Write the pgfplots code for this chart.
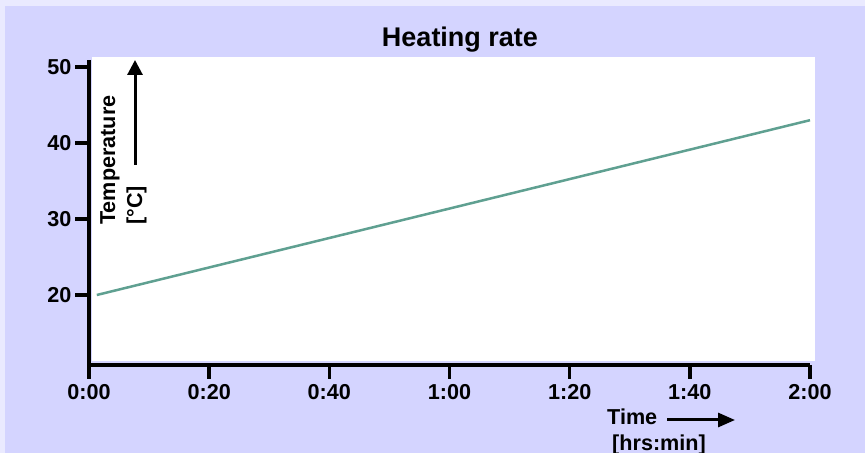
\documentclass[border=0pt]{standalone}
\usepackage{fontspec}
\setmainfont{Liberation Sans}
\usepackage{pgfplots}
\pgfplotsset{compat=1.18}
\usetikzlibrary{arrows.meta}
\definecolor{bgouter}{RGB}{234,234,255}
\definecolor{bginner}{RGB}{212,212,255}
\definecolor{linec}{RGB}{95,160,145}
\newcommand{\tf}{\fontsize{21.6bp}{26bp}\selectfont\bfseries}
\begin{document}
\begin{tikzpicture}[x=1bp,y=1bp]
\fill[bgouter] (0,0) rectangle (865,453);
\fill[bginner] (5,0) rectangle (865,447);
\fill[white] (92,92) rectangle (815,396);
\begin{axis}[
  at={(89bp,88bp)}, anchor=south west,
  scale only axis, width=721bp, height=305bp,
  xmin=0, xmax=120, ymin=10.79, ymax=50.92,
  axis x line*=bottom, axis y line*=left,
  every outer x axis line/.append style={line width=3.5bp, black},
  every outer y axis line/.append style={line width=3.5bp, black},
  axis line style={line width=3.5bp, black},
  xtick={0,20,...,120},
  xticklabels={0:00,0:20,0:40,1:00,1:20,1:40,2:00},
  ytick={20,30,40,50},
  tick align=outside,
  major tick length=14bp,
  every tick/.append style={line width=3.5bp, black},
  major tick style={line width=3.5bp, black},
  ticklabel style={font=\tf},
  xticklabel style={yshift=-2bp},
  /pgf/number format/assume math mode=true,
  clip=false,
]
\addplot[linec, line width=2.5bp] coordinates {(1.3,20) (120,43)};
\end{axis}
\node[anchor=base, inner sep=0pt, font=\fontsize{27bp}{32bp}\selectfont\bfseries] at (460,406) {Heating rate};
% y label
\node[anchor=base west, rotate=90, inner sep=0pt, font=\tf] at (115,228) {Temperature};
\node[anchor=base west, rotate=90, inner sep=0pt, font=\tf] at (142,228) {[°C]};
\draw[line width=3bp, -{Triangle[width=15bp,length=15bp]}] (135,288) -- (135,393);
% x label
\node[anchor=base west, inner sep=0pt, font=\tf] at (607,28) {Time};
\node[anchor=base west, inner sep=0pt, font=\tf] at (612,2) {[hrs:min]};
\draw[line width=3bp, -{Triangle[width=14bp,length=17bp]}] (667,33) -- (735,33);
\pgfresetboundingbox
\path[use as bounding box] (0,0) rectangle (865,453);
\end{tikzpicture}
\end{document}
